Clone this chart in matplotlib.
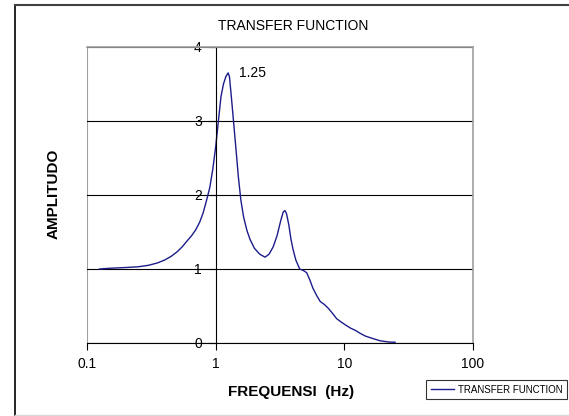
import matplotlib
matplotlib.use("Agg")
import matplotlib.pyplot as plt
from matplotlib.lines import Line2D

plt.rcParams["font.family"] = ["Liberation Sans", "DejaVu Sans"]

W, H = 569, 416

# frequency (Hz) and amplitude
freq = [0.125, 0.15, 0.2, 0.25, 0.3, 0.35, 0.4, 0.45, 0.5, 0.55, 0.6, 0.65,
        0.7, 0.75, 0.8, 0.85, 0.9, 0.95, 1.0, 1.05, 1.1, 1.15, 1.2, 1.25,
        1.28, 1.32, 1.36, 1.4, 1.45, 1.5, 1.57, 1.65, 1.75, 1.85, 2.0, 2.2,
        2.42, 2.6, 2.8, 3.0, 3.2, 3.35, 3.45, 3.55, 3.7, 3.85, 4.0, 4.2,
        4.5, 4.8, 5.1, 5.4, 5.7, 6.1, 6.5, 7.0, 7.5, 8.1, 8.7, 9.5, 10.3,
        11.2, 12.2, 13.3, 14.5, 16.0, 17.4, 19.0, 20.8, 22.5, 24.8]
amp = [1.0, 1.01, 1.02, 1.03, 1.05, 1.08, 1.12, 1.17, 1.23, 1.3, 1.38, 1.45,
       1.53, 1.63, 1.76, 1.93, 2.1, 2.35, 2.65, 3.0, 3.33, 3.5, 3.6, 3.65,
       3.6, 3.35, 3.1, 2.85, 2.55, 2.25, 1.93, 1.7, 1.52, 1.4, 1.28, 1.2,
       1.16, 1.2, 1.3, 1.45, 1.65, 1.77, 1.79, 1.75, 1.6, 1.4, 1.26, 1.12,
       1.0, 0.98, 0.95, 0.85, 0.74, 0.64, 0.56, 0.52, 0.47, 0.4, 0.33, 0.28,
       0.24, 0.2, 0.17, 0.13, 0.095, 0.07, 0.05, 0.03, 0.02, 0.012, 0.01]
x_ticks = [0.1, 1, 10, 100]
x_tick_labels = ["0.1", "1", "10", "100"]
y_ticks = [0, 1, 2, 3, 4]
peak_freq = 1.25
peak_amp = 3.65

fig = plt.figure(figsize=(W / 100, H / 100), dpi=100)

# plot area in pixels: x 87..473, y 47..343
ax = fig.add_axes([87 / W, (H - 343) / H, 386 / W, 296 / H])
ax.plot(freq, amp, color="#1c1c8a", lw=1.0)
ax.set_xscale("log")
ax.set_xlim(0.1, 100)
ax.set_ylim(0, 4)

ax.set_xticks(x_ticks)
ax.set_xticklabels(x_tick_labels)
ax.xaxis.set_minor_locator(matplotlib.ticker.NullLocator())
ax.set_yticks(y_ticks)
ax.tick_params(axis="x", direction="out", length=5, width=0.8, pad=5,
               labelsize=10, color="black")
ax.tick_params(axis="y", direction="out", length=5, width=0.8, pad=5,
               labelsize=10, color="black")

ax.yaxis.grid(True, color="black", lw=0.8)
ax.spines["left"].set_position(("data", 1))
ax.spines["left"].set_color("black")
ax.spines["bottom"].set_color("black")
for s in ["top", "right"]:
    ax.spines[s].set_color("#a0a0a0")
    ax.spines[s].set_linewidth(1.2)
ax.axvline(0.1, color="#a0a0a0", lw=1.5, zorder=0.5)

ax.text(1.53, peak_amp, "%.2f" % peak_freq, fontsize=10,
        ha="left", va="center")

fig.text(293 / W, 1 - 26 / H, "TRANSFER FUNCTION", fontsize=10,
         ha="center", va="center")
fig.text(291 / W, 1 - 392 / H, "FREQUENSI  (Hz)", fontsize=11,
         fontweight="bold", ha="center", va="center")
fig.text(54 / W, 1 - 194 / H, "AMPLITUDO", fontsize=11, fontweight="bold",
         rotation=90, ha="center", va="center")

leg = fig.legend(handles=[Line2D([], [], color="#1c1c8a", lw=1.0)],
                 labels=["TRANSFER FUNCTION"], loc="lower right",
                 bbox_to_anchor=(567 / W, 1 - 399 / H), fontsize=7,
                 frameon=True, fancybox=False, borderpad=0.45,
                 handlelength=2.4, handletextpad=0.4, borderaxespad=0)
leg.get_frame().set_edgecolor("black")
leg.get_frame().set_linewidth(0.8)

# outer chart border (left, top, bottom; right is cut by the image edge)
fig.add_artist(Line2D([14.5 / W, 14.5 / W], [1 - 5 / H, 1 - 415 / H],
                      color="black", lw=1.2, transform=fig.transFigure))
fig.add_artist(Line2D([14.5 / W, 1], [1 - 5 / H, 1 - 5 / H],
                      color="#404040", lw=1.5, transform=fig.transFigure))
fig.add_artist(Line2D([14.5 / W, 1], [1 - 414.5 / H, 1 - 414.5 / H],
                      color="#d8d8d8", lw=1.0, transform=fig.transFigure))

fig.savefig("out.png", dpi=100)
